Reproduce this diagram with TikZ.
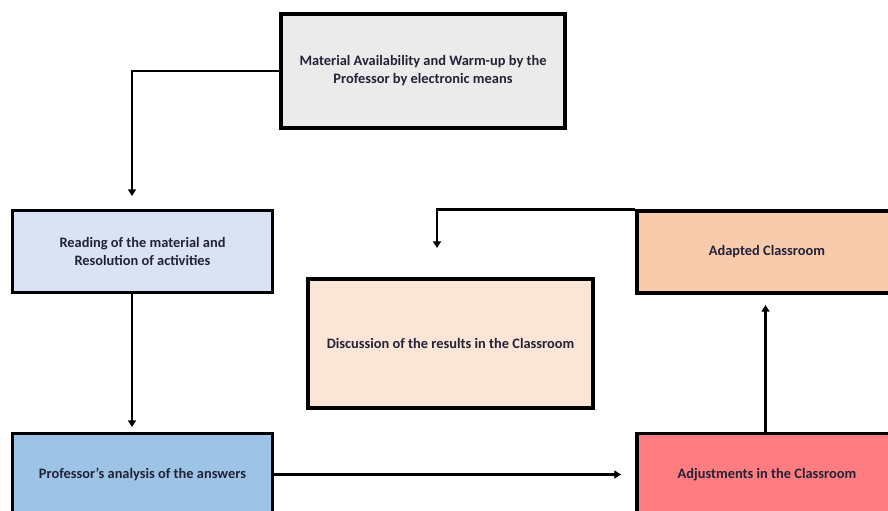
\documentclass[tikz,border=0pt]{standalone}
\usepackage{fontspec}
\setmainfont{Carlito}
\usepackage{tikz}
\usetikzlibrary{positioning,calc}
\usetikzlibrary{arrows.meta}
\definecolor{BoxGray}{RGB}{235,235,235}
\definecolor{PaleBlue}{RGB}{218,227,243}
\definecolor{MidBlue}{RGB}{157,195,230}
\definecolor{PalePeach}{RGB}{251,229,214}
\definecolor{Peach}{RGB}{248,203,173}
\definecolor{Salmon}{RGB}{255,124,128}
\definecolor{TextInk}{RGB}{35,35,55}
\tikzset{
  stage/.style={rectangle,draw=black,line width=2.3pt,align=center,
    text=TextInk,font=\fontsize{10.8}{13.5}\selectfont\bfseries,inner sep=2pt},
  link/.style={draw=black,line width=2pt,-{Triangle[length=5pt,width=6pt]}},
}

\begin{document}
\begin{tikzpicture}[x=0.75pt,y=-0.75pt]
\useasboundingbox (0,0) rectangle (888,510);
\clip (0,0) rectangle (888,510);
% boxes
\node[stage,fill=BoxGray,minimum width=213pt,minimum height=85.5pt] (mat) at (423,71)
  {Material Availability and Warm-up by the\\Professor by electronic means};
\node[stage,fill=PaleBlue,minimum width=195pt,minimum height=61.5pt] (read) at (142.5,251.5)
  {Reading of the material and\\Resolution of activities};
\node[stage,fill=PalePeach,minimum width=213.75pt,minimum height=96.75pt] (disc) at (450.5,343.5)
  {Discussion of the results in the Classroom};
\node[stage,fill=Peach,minimum width=195pt,minimum height=61.5pt] (adapt) at (767,252)
  {Adapted Classroom};
\node[stage,fill=MidBlue,minimum width=195pt,minimum height=61.5pt] (anal) at (142.5,474.5)
  {Professor's analysis of the answers};
\node[stage,fill=Salmon,minimum width=195pt,minimum height=61.5pt] (adj) at (767,474.5)
  {Adjustments in the Classroom};
% arrow ends
\coordinate (e1) at (132,196);
\coordinate (e2) at (132,427);
\coordinate (e3) at (621,474.5);
\coordinate (e4) at (765.5,305);
\coordinate (e5) at (437,248);
% connectors
\draw[link] (mat.west) -| (e1);
\draw[link] (read.south -| e2) -- (e2);
\draw[link] (anal.east) -- (e3);
\draw[link] (adj.north -| e4) -- (e4);
\draw[link] (adapt.north west) -| (e5);
\end{tikzpicture}
\end{document}
